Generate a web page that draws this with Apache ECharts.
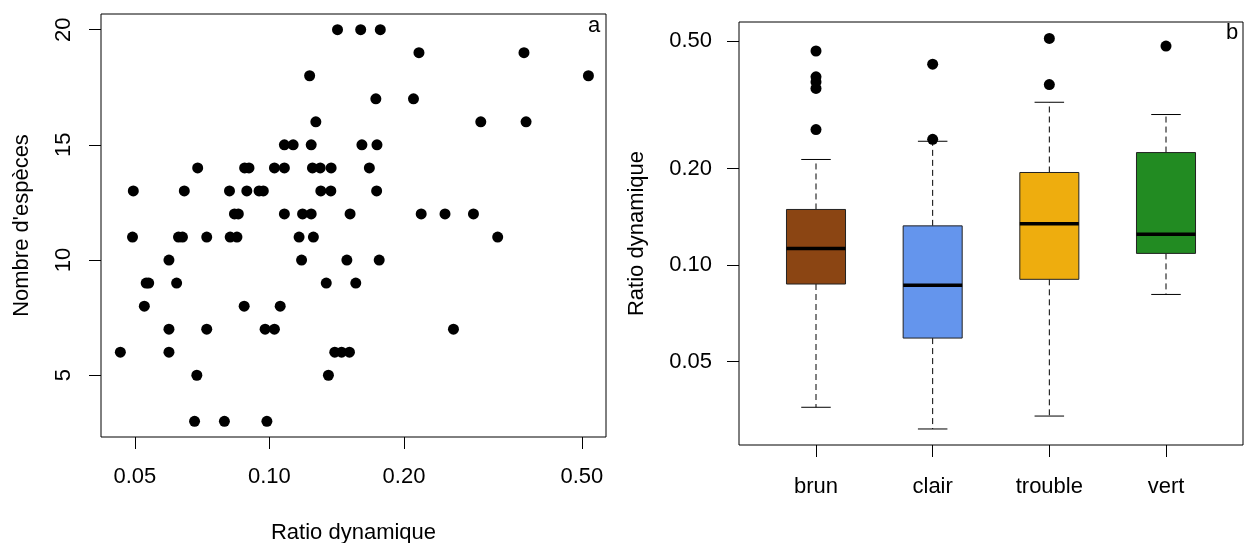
<!DOCTYPE html>
<html>
<head>
<meta charset="utf-8">
<script src="https://cdn.jsdelivr.net/npm/echarts@6/dist/echarts.min.js"></script>
<style>
html, body { margin: 0; padding: 0; background: #fff; }
#chart { width: 1244px; height: 543px; }
</style>
</head>
<body>
<div id="chart"></div>
<script>
// panel a : one point per lake, ratio dynamique vs nombre d'especes
var ratio = [
	0.142, 0.160, 0.177,
	0.216, 0.371,
	0.123, 0.517,
	0.173, 0.210,
	0.127, 0.297, 0.375,
	0.108, 0.113, 0.124, 0.161, 0.174,
	0.0691, 0.088, 0.090, 0.1026, 0.108, 0.1248, 0.1299, 0.1374, 0.1673,
	0.0496, 0.0645, 0.0814, 0.089, 0.0948, 0.0969, 0.1303, 0.1372, 0.1737,
	0.0835, 0.0852, 0.108, 0.1186, 0.124, 0.1515, 0.2185, 0.247, 0.286,
	0.0494, 0.0626, 0.0639, 0.0724, 0.0817, 0.0846, 0.1165, 0.1254, 0.324,
	0.0596, 0.118, 0.149, 0.176,
	0.0530, 0.0537, 0.0620, 0.134, 0.156,
	0.0525, 0.0878, 0.1057,
	0.0596, 0.0724, 0.0978, 0.1026, 0.258,
	0.0464, 0.0596, 0.140, 0.145, 0.151,
	0.0688, 0.1355,
	0.068, 0.0793, 0.0987
];
var especes = [
	20, 20, 20,
	19, 19,
	18, 18,
	17, 17,
	16, 16, 16,
	15, 15, 15, 15, 15,
	14, 14, 14, 14, 14, 14, 14, 14, 14,
	13, 13, 13, 13, 13, 13, 13, 13, 13,
	12, 12, 12, 12, 12, 12, 12, 12, 12,
	11, 11, 11, 11, 11, 11, 11, 11, 11,
	10, 10, 10, 10,
	9, 9, 9, 9, 9,
	8, 8, 8,
	7, 7, 7, 7, 7,
	6, 6, 6, 6, 6,
	5, 5,
	3, 3, 3
];
var ratioTicks = [0.05, 0.1, 0.2, 0.5];
var especesTicks = [5, 10, 15, 20];

// panel b : boxplot of ratio dynamique by water colour
var categories = ['brun', 'clair', 'trouble', 'vert'];
var whiskerLow = [0.0360, 0.0308, 0.0338, 0.0810];
var q1 = [0.0873, 0.0592, 0.0903, 0.1088];
var median = [0.1127, 0.0865, 0.1346, 0.1249];
var q3 = [0.1492, 0.1326, 0.1946, 0.2246];
var whiskerHigh = [0.2137, 0.2436, 0.3224, 0.2952];
var outliers = [
	[0.466, 0.387, 0.373, 0.356, 0.265],
	[0.424, 0.247],
	[0.510, 0.366],
	[0.483]
];
var boxTicks = [0.05, 0.1, 0.2, 0.5];

var boxColors = ['#8B4513', '#6495ED', '#EEAD0E', '#228B22'];
var font = 'Liberation Sans, Arial, sans-serif';

var scatterData = ratio.map(function (r, i) { return [r, especes[i]]; });

var boxData = categories.map(function (c, i) {
	return [i + 1, whiskerLow[i], q1[i], median[i], q3[i], whiskerHigh[i]];
});

var outlierData = [];
outliers.forEach(function (list, i) {
	list.forEach(function (v) { outlierData.push([i + 1, v]); });
});

function renderBox(params, api) {
	var i = api.value(0);
	var lo = api.coord([i, api.value(1)]);
	var b1 = api.coord([i - 0.253, api.value(2)]);
	var md = api.coord([i, api.value(3)]);
	var b3 = api.coord([i + 0.253, api.value(4)]);
	var hi = api.coord([i, api.value(5)]);
	var cx = lo[0];
	var sw = (b3[0] - b1[0]) / 4;
	var dash = { stroke: '#000', lineWidth: 1, lineDash: [6, 4] };
	var solid = { stroke: '#000', lineWidth: 1 };
	return {
		type: 'group',
		children: [
			{ type: 'line', shape: { x1: cx, y1: b3[1], x2: cx, y2: hi[1] }, style: dash },
			{ type: 'line', shape: { x1: cx, y1: b1[1], x2: cx, y2: lo[1] }, style: dash },
			{ type: 'line', shape: { x1: cx - sw, y1: hi[1], x2: cx + sw, y2: hi[1] }, style: solid },
			{ type: 'line', shape: { x1: cx - sw, y1: lo[1], x2: cx + sw, y2: lo[1] }, style: solid },
			{
				type: 'rect',
				shape: { x: b1[0], y: b3[1], width: b3[0] - b1[0], height: b1[1] - b3[1] },
				style: { fill: boxColors[params.dataIndex], stroke: '#222', lineWidth: 1 }
			},
			{ type: 'line', shape: { x1: b1[0], y1: md[1], x2: b3[0], y2: md[1] }, style: { stroke: '#000', lineWidth: 3.5 } }
		]
	};
}

var chart = echarts.init(document.getElementById('chart'), null, { renderer: 'canvas' });

var tickStyle = { show: true, length: 12, lineStyle: { color: '#000', width: 1 } };
var labelFont = { fontFamily: font, fontSize: 22, color: '#000' };
var nameFont = { fontFamily: font, fontSize: 22, color: '#000' };

option = {
	animation: false,
	backgroundColor: '#fff',
	textStyle: { fontFamily: font },
	grid: [
		{ left: 101, top: 14, width: 505, height: 423, show: true, borderColor: '#000', borderWidth: 1, backgroundColor: 'transparent', containLabel: false, outerBoundsMode: 'none' },
		{ left: 739, top: 22, width: 504, height: 423, show: true, borderColor: '#000', borderWidth: 1, backgroundColor: 'transparent', containLabel: false, outerBoundsMode: 'none' }
	],
	xAxis: [
		{
			gridIndex: 0, type: 'log', logBase: 10, min: 0.042, max: 0.566,
			axisLine: { show: false }, splitLine: { show: false }, minorTick: { show: false },
			axisTick: Object.assign({ customValues: ratioTicks }, tickStyle),
			axisLabel: Object.assign({ customValues: ratioTicks, margin: 29, formatter: function (v) { return v.toFixed(2); } }, labelFont),
			name: 'Ratio dynamique', nameLocation: 'middle', nameGap: 85,
			nameTextStyle: nameFont
		},
		{
			gridIndex: 1, type: 'value', min: 0.34, max: 4.66,
			axisLine: { show: false }, splitLine: { show: false },
			axisTick: Object.assign({ customValues: [1, 2, 3, 4] }, tickStyle),
			axisLabel: Object.assign({ customValues: [1, 2, 3, 4], margin: 31, formatter: function (v) { return categories[Math.round(v) - 1]; } }, labelFont)
		}
	],
	yAxis: [
		{
			gridIndex: 0, type: 'value', min: 2.32, max: 20.68,
			axisLine: { show: false }, splitLine: { show: false },
			axisTick: Object.assign({ customValues: especesTicks }, tickStyle),
			axisLabel: Object.assign({ customValues: especesTicks, margin: 26, rotate: 90, align: 'center', verticalAlign: 'bottom' }, labelFont),
			name: "Nombre d'espèces", nameLocation: 'middle', nameGap: 68,
			nameTextStyle: nameFont
		},
		{
			gridIndex: 1, type: 'log', logBase: 10, min: 0.02745, max: 0.574,
			axisLine: { show: false }, splitLine: { show: false }, minorTick: { show: false },
			axisTick: Object.assign({ customValues: boxTicks }, tickStyle),
			axisLabel: Object.assign({ customValues: boxTicks, margin: 27, formatter: function (v) { return v.toFixed(2); } }, labelFont),
			name: 'Ratio dynamique', nameLocation: 'middle', nameGap: 91,
			nameTextStyle: nameFont
		}
	],
	graphic: [
		{ type: 'text', left: 588, top: 15, silent: true, style: { text: 'a', font: '22px ' + font, fill: '#000' } },
		{ type: 'text', left: 1226, top: 22, silent: true, style: { text: 'b', font: '22px ' + font, fill: '#000' } }
	],
	series: [
		{
			type: 'scatter', xAxisIndex: 0, yAxisIndex: 0,
			data: scatterData, symbol: 'circle', symbolSize: 11,
			itemStyle: { color: '#000', opacity: 1 }, silent: true
		},
		{
			type: 'custom', xAxisIndex: 1, yAxisIndex: 1,
			data: boxData, renderItem: renderBox,
			encode: { x: 0, y: [1, 2, 3, 4, 5] }, silent: true
		},
		{
			type: 'scatter', xAxisIndex: 1, yAxisIndex: 1,
			data: outlierData, symbol: 'circle', symbolSize: 11,
			itemStyle: { color: '#000', opacity: 1 }, silent: true, z: 5
		}
	]
};

chart.setOption(option);
</script>
</body>
</html>
